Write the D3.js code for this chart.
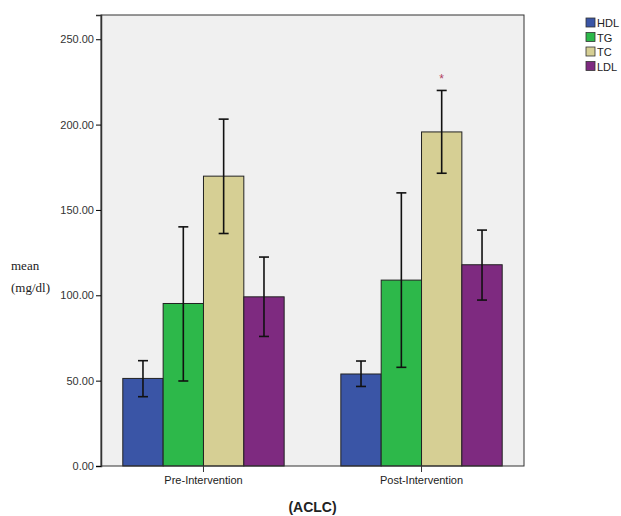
<!DOCTYPE html>
<html>
<head>
<meta charset="utf-8">
<script src="https://cdn.jsdelivr.net/npm/d3@7"></script>
<style>
  body { margin: 0; background: #fff; }
  text { font-family: Arial, "Liberation Sans", sans-serif; }
</style>
</head>
<body>
<div id="chart"></div>
<script>
// data
const groups = ["Pre-Intervention", "Post-Intervention"];
const series = ["HDL", "TG", "TC", "LDL"];
const colors = ["#3a55a6", "#2db84a", "#d6cf94", "#7e2a80"];
const means = [[51.3, 95.2, 169.8, 99.1], [53.9, 108.9, 195.7, 117.9]];
const errLow = [[40.6, 49.8, 136.2, 75.9], [46.6, 57.8, 171.5, 97.2]];
const errHigh = [[61.7, 140.1, 203.2, 122.4], [61.5, 160.0, 220.0, 138.2]];
const yTicks = [0, 50, 100, 150, 200, 250];
const starMarks = [[1, 2]]; // group, series

const W = 621, H = 516;
const plot = { left: 101, right: 524, top: 15, bottom: 466 };

const svg = d3.select("#chart").append("svg")
  .attr("width", W).attr("height", H);

const yscale = d3.scaleLinear()
  .domain([0, 264.2])
  .range([plot.bottom, plot.top]);

const x0 = d3.scaleBand()
  .domain(groups)
  .range([plot.left, plot.right])
  .paddingInner(0.26)
  .paddingOuter(0.1);

const x1 = d3.scaleBand()
  .domain(series)
  .range([0, x0.bandwidth()]);

// plot background
svg.append("rect")
  .attr("x", plot.left).attr("y", plot.top)
  .attr("width", plot.right - plot.left)
  .attr("height", plot.bottom - plot.top)
  .attr("fill", "#f0f0f0");

// bars
const g = svg.append("g").attr("class", "bars");
groups.forEach((grp, gi) => {
  const gg = g.append("g").attr("transform", `translate(${x0(grp)},0)`);
  gg.selectAll("rect")
    .data(series)
    .enter().append("rect")
      .attr("x", d => x1(d))
      .attr("y", (d, i) => yscale(means[gi][i]))
      .attr("width", x1.bandwidth())
      .attr("height", (d, i) => plot.bottom - yscale(means[gi][i]))
      .attr("fill", (d, i) => colors[i])
      .attr("stroke", "#222")
      .attr("stroke-width", 1);

  // error bars
  const eb = gg.selectAll("g.err")
    .data(series)
    .enter().append("g")
      .attr("class", "err")
      .attr("stroke", "#111")
      .attr("stroke-width", 1.6);
  eb.append("line")
    .attr("x1", d => x1(d) + x1.bandwidth() / 2)
    .attr("x2", d => x1(d) + x1.bandwidth() / 2)
    .attr("y1", (d, i) => yscale(errLow[gi][i]))
    .attr("y2", (d, i) => yscale(errHigh[gi][i]));
  [errLow, errHigh].forEach(arr => {
    eb.append("line")
      .attr("x1", d => x1(d) + x1.bandwidth() / 2 - 5)
      .attr("x2", d => x1(d) + x1.bandwidth() / 2 + 5)
      .attr("y1", (d, i) => yscale(arr[gi][i]))
      .attr("y2", (d, i) => yscale(arr[gi][i]));
  });
});

// significance marks
starMarks.forEach(([gi, si]) => {
  svg.append("text")
    .attr("x", x0(groups[gi]) + x1(series[si]) + x1.bandwidth() / 2)
    .attr("y", yscale(errHigh[gi][si]) - 7)
    .attr("text-anchor", "middle")
    .attr("font-size", 12)
    .attr("fill", "#b04060")
    .text("*");
});

// frame
svg.append("rect")
  .attr("x", plot.left).attr("y", plot.top)
  .attr("width", plot.right - plot.left)
  .attr("height", plot.bottom - plot.top)
  .attr("fill", "none")
  .attr("stroke", "#333")
  .attr("stroke-width", 1);

// axes
const yAxis = d3.axisLeft(yscale)
  .tickValues(yTicks)
  .tickSize(5)
  .tickPadding(2)
  .tickFormat(d3.format(".2f"));
svg.append("g")
  .attr("class", "axis")
  .attr("transform", `translate(${plot.left},0)`)
  .call(yAxis)
  .call(s => s.select(".domain").attr("stroke", "#333").attr("stroke-width", 1.5))
  .call(s => s.selectAll("text").attr("font-size", 11).attr("fill", "#333"));

const xAxis = d3.axisBottom(x0).tickSize(6).tickPadding(4);
svg.append("g")
  .attr("class", "axis")
  .attr("transform", `translate(0,${plot.bottom})`)
  .call(xAxis)
  .call(s => s.select(".domain").remove())
  .call(s => s.selectAll("line").attr("stroke", "#333"))
  .call(s => s.selectAll("text").attr("font-size", 11).attr("fill", "#222"));

// axis titles
svg.append("text")
  .attr("x", (plot.left + plot.right) / 2)
  .attr("y", 512)
  .attr("text-anchor", "middle")
  .attr("font-size", 14)
  .attr("font-weight", "bold")
  .attr("fill", "#222")
  .text("(ACLC)");

const ylab = svg.append("text")
  .style("font-family", "'Liberation Serif', 'DejaVu Serif', serif")
  .attr("font-size", 13)
  .attr("fill", "#222");
ylab.append("tspan").attr("x", 11).attr("y", 270).text("mean");
ylab.append("tspan").attr("x", 11).attr("y", 292).text("(mg/dl)");

// legend
const legend = svg.append("g")
  .attr("class", "legend")
  .attr("transform", "translate(586,18)");
legend.selectAll("rect")
  .data(series)
  .enter().append("rect")
    .attr("x", 0)
    .attr("y", (d, i) => i * 14.5)
    .attr("width", 9)
    .attr("height", 9)
    .attr("fill", (d, i) => colors[i])
    .attr("stroke", "#333")
    .attr("stroke-width", 0.8);
legend.selectAll("text")
  .data(series)
  .enter().append("text")
    .attr("x", 11)
    .attr("y", (d, i) => i * 14.5 + 9)
    .attr("font-size", 11)
    .attr("fill", "#222")
    .text(d => d);
</script>
</body>
</html>
